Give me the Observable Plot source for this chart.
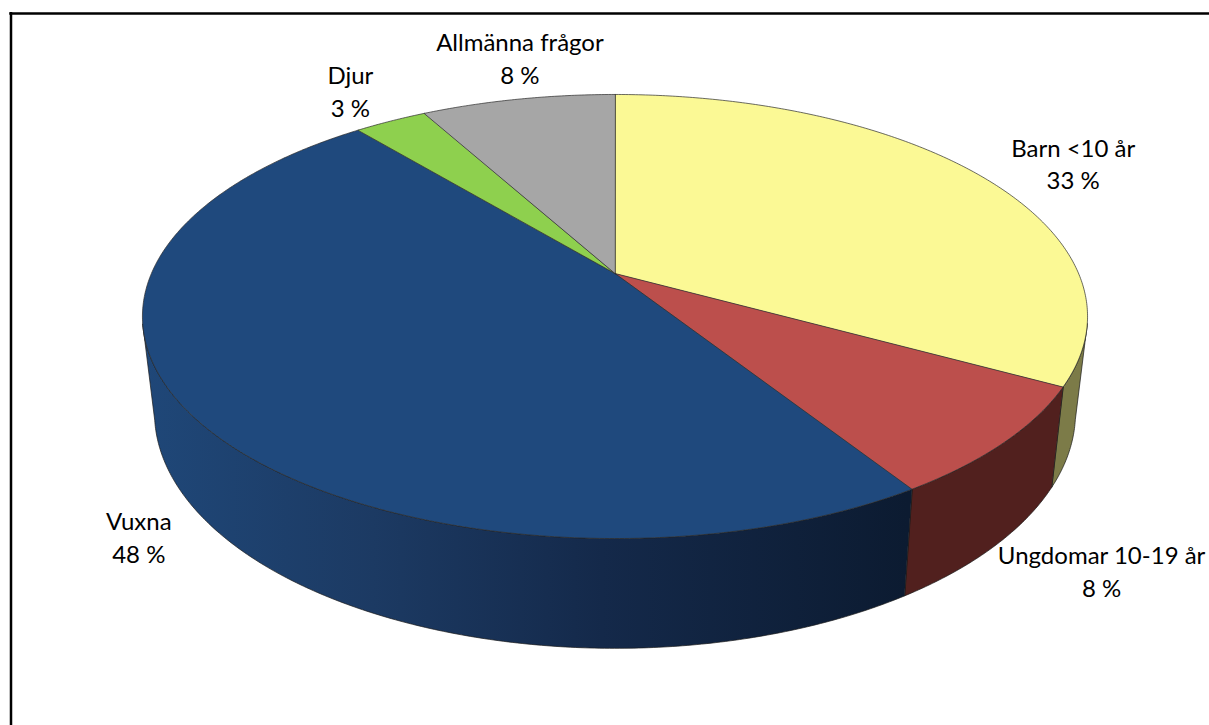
<!DOCTYPE html>
<html lang="sv">
<head>
<meta charset="utf-8">
<title>Fördelning per grupp</title>
<script src="https://cdn.jsdelivr.net/npm/d3@7"></script>
<script src="https://cdn.jsdelivr.net/npm/@observablehq/plot@0.6"></script>
<style>
  html, body { margin: 0; padding: 0; background: #fff; }
  svg { display: block; }
</style>
</head>
<body>
<div id="chart"></div>
<script>
// Andel per grupp, i procent, medurs från klockan tolv
const groups = ["Barn <10 år", "Ungdomar 10-19 år", "Vuxna", "Djur", "Allmänna frågor"];
const shares = [33, 8, 48, 3, 8];

const topColors = ["#fbf995", "#bc4f4c", "#1f497d", "#8ed04e", "#a6a6a6"];
const wallColors = ["#7c7b48", "#51201e", "url(#vuxna-wall)", "#466a24", "#555555"];

// Etikettens förskjutning från kantens mittpunkt
const labelDx = [95, 97, -53, -40, 2];
const labelDy = [-12, 128, 121, -31, -42];

// Perspektivet: en skiva med övre och undre cirkel i bilden
const TILT = 0.1937;
const upper = { cx: 614.5, cy: 273, a: 463.6, b: 213.7 };
const lower = { cx: 614.5, cy: 366.3, a: 451.8, b: 227 };
const WALL_FROM = 103;   // där den synliga sidoytan börjar, grader
const WALL_TO = 257;

function project(deg, plane, r = 1) {
  const t = deg * Math.PI / 180;
  const u = r * Math.sin(t), v = -r * Math.cos(t);
  const w = 1 - TILT * v;
  return { x: plane.cx + plane.a * u / w, y: plane.cy + plane.b * v / w };
}

const arc = (from, to, plane) => {
  const n = Math.max(2, Math.ceil(Math.abs(to - from) / 0.5));
  return d3.range(n + 1).map(i => project(from + (to - from) * i / n, plane));
};

// Kumulativa vinklar ur andelarna
const total = d3.sum(shares);
const cum = d3.cumsum(shares);
const startDeg = i => (i === 0 ? 0 : cum[i - 1]) / total * 360;
const endDeg = i => cum[i] / total * 360;

const topFace = i => [project(0, upper, 0), ...arc(startDeg(i), endDeg(i), upper)];
const wallFace = i => {
  const a = Math.max(startDeg(i), WALL_FROM), b = Math.min(endDeg(i), WALL_TO);
  if (a >= b) return null;
  return [...arc(a, b, upper), ...arc(b, a, lower)];
};

const lineOpts = (fill, stroke, strokeWidth) => ({
  x: "x", y: "y", fill, stroke, strokeWidth,
  curve: "linear-closed", strokeLinejoin: "round"
});

const walls = groups.flatMap((_, i) => {
  const face = wallFace(i);
  return face ? [Plot.line(face, lineOpts(wallColors[i], "#1a1a1a", 0.7))] : [];
});
const tops = groups.map((_, i) => Plot.line(topFace(i), lineOpts(topColors[i], "#2b2b2b", 0.7)));

const labels = groups.map((name, i) => {
  const rim = project((startDeg(i) + endDeg(i)) / 2, upper);
  return { text: `${name}\n${shares[i]} %`, x: rim.x + labelDx[i], y: rim.y + labelDy[i] };
});

const chart = Plot.plot({
  width: 1209,
  height: 725,
  margin: 0,
  x: { domain: [0, 1209], range: [0, 1209], axis: null },
  y: { domain: [0, 725], range: [0, 725], axis: null },
  style: { background: "#fff", fontFamily: "Lato, Carlito, sans-serif" },
  marks: [
    // Ramen: vänster och övre kant
    Plot.ruleX([10.5], { y1: 12, y2: 725, stroke: "#000", strokeWidth: 2.5 }),
    Plot.ruleY([13], { x1: 9.25, x2: 1209, stroke: "#000", strokeWidth: 2.5 }),
    ...walls,
    ...tops,
    Plot.text(labels, {
      x: "x", y: "y", text: "text",
      fontSize: 24, lineHeight: 1.37, fill: "#000",
      textAnchor: "middle", lineAnchor: "middle"
    })
  ]
});

// Vuxna-sidans skuggning mörknar från vänster till höger
const defs = d3.select(chart).insert("defs", ":first-child");
const grad = defs.append("linearGradient")
  .attr("id", "vuxna-wall")
  .attr("gradientUnits", "userSpaceOnUse")
  .attr("x1", 145).attr("x2", 906).attr("y1", 0).attr("y2", 0);
[[0, "#1f4778"], [0.3, "#1c3a63"], [0.6, "#14294a"], [1, "#0c1b31"]].forEach(([o, c]) =>
  grad.append("stop").attr("offset", o).attr("stop-color", c));

document.getElementById("chart").append(chart);
</script>
</body>
</html>
